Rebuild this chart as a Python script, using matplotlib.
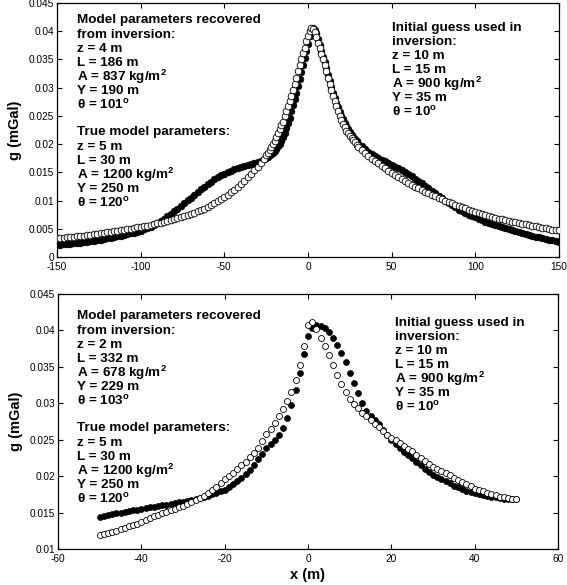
"""
Gravity anomaly fits: true model vs recovered model, two profiles.
"""
import numpy as np
import matplotlib
matplotlib.use("Agg")
import matplotlib.pyplot as plt
import matplotlib.ticker as mticker

plt.rcParams["font.family"] = ["Liberation Sans", "DejaVu Sans"]
plt.rcParams["mathtext.fontset"] = "custom"
plt.rcParams["mathtext.bf"] = "Liberation Sans:bold"
plt.rcParams["mathtext.rm"] = "Liberation Sans"
plt.rcParams["axes.unicode_minus"] = False

# ---------------------------------------------------------------------------
# Data
# ---------------------------------------------------------------------------
# top profile: sampling positions (m)
x_top = np.r_[np.arange(-150, -25, 2), np.arange(-25, 31), np.arange(32, 151, 2)]

g_top_true = [
    # -150 .. -26 (step 2)
    .00210, .00216, .00222, .00228, .00234, .00240, .00246, .00254, .00262, .00270,
    .00279, .00287, .00296, .00307, .00318, .00330, .00341, .00353, .00364, .00376,
    .00389, .00403, .00418, .00433, .00450, .00468, .00489, .00512, .00538, .00567,
    .00600, .00637, .00677, .00718, .00763, .00808, .00855, .00904, .00953, .01003,
    .01053, .01103, .01152, .01201, .01249, .01295, .01337, .01377, .01415, .01449,
    .01479, .01507, .01531, .01554, .01575, .01594, .01611, .01628, .01644, .01661,
    .01680, .01705, .01740,
    # -25 .. 30 (step 1)
    .0176, .0178, .0180, .0182, .0185, .0188, .0192, .0196, .0201, .0206,
    .0212, .0220, .0228, .0237, .0247, .0258, .0269, .0280, .0291, .0303,
    .0315, .0327, .0340, .0352, .0365, .0378, .0391, .0401, .0405, .0403,
    .0397, .0387, .0376, .0365, .0355, .0345, .0334, .0323, .0312, .0301,
    .0291, .0282, .0273, .0265, .0257, .0250, .0244, .0238, .0232, .0227,
    .0222, .0217, .0213, .0209, .0205, .0201,
    # 32 .. 150 (step 2)
    .01960, .01910, .01860, .01820, .01785, .01750, .01722, .01695, .01670, .01637,
    .01603, .01570, .01537, .01503, .01470, .01430, .01390, .01350, .01303, .01260,
    .01220, .01173, .01127, .01080, .01040, .01000, .00960, .00920, .00880, .00840,
    .00813, .00783, .00750, .00723, .00700, .00680, .00653, .00627, .00600, .00580,
    .00563, .00550, .00530, .00513, .00500, .00480, .00460, .00440, .00427, .00410,
    .00390, .00377, .00363, .00350, .00337, .00323, .00310, .00297, .00283, .00270,
]

g_top_model = [
    # -150 .. -26 (step 2)
    .00330, .00336, .00342, .00348, .00354, .00360, .00366, .00373, .00380, .00387,
    .00394, .00402, .00410, .00418, .00426, .00435, .00444, .00453, .00462, .00471,
    .00481, .00491, .00502, .00512, .00523, .00534, .00546, .00558, .00571, .00584,
    .00597, .00611, .00625, .00640, .00655, .00671, .00688, .00706, .00724, .00743,
    .00763, .00785, .00808, .00832, .00858, .00887, .00917, .00950, .00985, .01023,
    .01064, .01105, .01148, .01193, .01240, .01292, .01350, .01410, .01473, .01537,
    .01600, .01667, .01735,
    # -25 .. 30 (step 1)
    .0180, .0185, .0190, .0195, .0200, .0205, .0212, .0219, .0226, .0233,
    .0240, .0249, .0258, .0267, .0276, .0285, .0296, .0307, .0318, .0329,
    .0340, .0350, .0361, .0371, .0382, .0392, .0401, .0406, .0404, .0398,
    .0390, .0380, .0370, .0360, .0350, .0340, .0329, .0318, .0307, .0296,
    .0285, .0276, .0267, .0258, .0250, .0243, .0236, .0230, .0224, .0219,
    .0215, .0211, .0207, .0203, .0199, .0195,
    # 32 .. 150 (step 2)
    .01900, .01845, .01790, .01743, .01697, .01660, .01620, .01577, .01530, .01490,
    .01453, .01420, .01380, .01343, .01310, .01277, .01247, .01220, .01187, .01157,
    .01130, .01103, .01077, .01050, .01023, .00997, .00970, .00950, .00927, .00900,
    .00880, .00860, .00840, .00820, .00800, .00780, .00767, .00750, .00730, .00710,
    .00693, .00680, .00667, .00653, .00640, .00627, .00613, .00600, .00587, .00577,
    .00570, .00557, .00543, .00530, .00517, .00507, .00500, .00487, .00473, .00470,
]

# bottom profile: -50 .. 50 m, 1 m spacing
x_bot = np.arange(-50, 51)

g_bot_true = [
    .0144, .0145, .0147, .0148, .0149, .0150, .0151, .0152, .0153, .0154,
    .0155, .0156, .0157, .0158, .0159, .0160, .0161, .0162, .0163, .0164,
    .0165, .0166, .0167, .0168, .0170, .0171, .0173, .0175, .0177, .0179,
    .0181, .0185, .0189, .0193, .0198, .0203, .0208, .0215, .0223, .0231,
    .0238, .0244, .0249, .0256, .0266, .0280, .0298, .0318, .0342, .0368,
    .0393, .0404, .0407, .0406, .0403, .0398, .0390, .0380, .0369, .0356,
    .0342, .0328, .0314, .0301, .0289, .0283, .0277, .0271, .0264, .0257,
    .0250, .0244, .0238, .0233, .0229, .0225, .0220, .0215, .0210, .0206,
    .0202, .0199, .0196, .0193, .0190, .0187, .0185, .0182, .0180, .0178,
    .01765, .0175, .0174, .0173, .0172, .0171, .0170, .0169, .0169, .0168,
    .0168,
]

g_bot_model = [
    .0119, .0121, .0122, .0124, .0125, .0127, .0129, .0131, .0133, .0135,
    .0137, .0140, .0143, .0145, .0147, .0149, .0151, .0153, .0155, .0157,
    .0159, .0162, .0164, .0167, .0170, .0173, .0177, .0181, .0185, .0190,
    .0196, .0200, .0205, .0210, .0215, .0220, .0226, .0232, .0239, .0248,
    .0258, .0265, .0273, .0282, .0292, .0303, .0316, .0332, .0352, .0378,
    .0408, .0412, .0402, .0390, .0378, .0366, .0352, .0339, .0327, .0316,
    .0306, .0299, .0293, .0287, .0282, .0277, .0272, .0267, .0262, .0257,
    .0253, .0249, .0245, .0241, .0237, .0234, .0229, .0225, .0221, .0217,
    .0213, .0210, .0207, .0204, .0201, .0198, .0195, .0192, .0189, .0186,
    .0183, .0181, .0179, .0177, .0175, .0174, .0172, .0171, .0170, .0169,
    .0168,
]

TOP_YTICKS = [0, .005, .01, .015, .02, .025, .03, .035, .04, .045]
BOT_YTICKS = [.01, .015, .02, .025, .03, .035, .04, .045]

top_recovered = ["Model parameters recovered", "from inversion:", "z = 4 m", "L = 186 m",
                 r"A = 837 kg/m$^\mathbf{2}$", "Y = 190 m", r"θ = 101$^\mathbf{o}$", "",
                 "True model parameters:", "z = 5 m", "L = 30 m",
                 r"A = 1200 kg/m$^\mathbf{2}$", "Y = 250 m", r"θ = 120$^\mathbf{o}$"]
bot_recovered = ["Model parameters recovered", "from inversion:", "z = 2 m", "L = 332 m",
                 r"A = 678 kg/m$^\mathbf{2}$", "Y = 229 m", r"θ = 103$^\mathbf{o}$", "",
                 "True model parameters:", "z = 5 m", "L = 30 m",
                 r"A = 1200 kg/m$^\mathbf{2}$", "Y = 250 m", r"θ = 120$^\mathbf{o}$"]
initial_guess = ["Initial guess used in", "inversion:", "z = 10 m", "L = 15 m",
                 r"A = 900 kg/m$^\mathbf{2}$", "Y = 35 m", r"θ = 10$^\mathbf{o}$"]

# ---------------------------------------------------------------------------
# Figure
# ---------------------------------------------------------------------------
W, H = 567, 585
fig = plt.figure(figsize=(W / 100, H / 100), dpi=100)
ax1 = fig.add_axes([57 / W, 1 - 257 / H, 502 / W, 254 / H])
ax2 = fig.add_axes([58 / W, 1 - 549 / H, 500 / W, 255 / H])


def draw(ax, x, g_true, g_model, ms):
    ax.plot(x, g_true, "o", ms=ms, mfc="black", mec="black", mew=0.5, zorder=3)
    ax.plot(x, g_model, "o", ms=ms, mfc="white", mec="black", mew=0.6, zorder=4)
    ax.tick_params(direction="in", top=True, right=True, length=3.5, width=0.8,
                   labelsize=7.3, pad=2)
    ax.tick_params(axis="x", pad=3.5)
    for s in ax.spines.values():
        s.set_linewidth(0.9)
    ax.yaxis.set_major_formatter(mticker.FormatStrFormatter("%g"))
    ax.xaxis.set_major_formatter(mticker.FormatStrFormatter("%g"))
    ax.set_ylabel("g (mGal)", fontsize=10.5, fontweight="bold", labelpad=5)


draw(ax1, x_top, g_top_true, g_top_model, 4.8)
ax1.set_xlim(-150, 150)
ax1.set_ylim(0, 0.045)
ax1.set_xticks([-150, -100, -50, 0, 50, 100, 150])
ax1.set_yticks(TOP_YTICKS)

draw(ax2, x_bot, g_bot_true, g_bot_model, 4.3)
ax2.set_xlim(-60, 60)
ax2.set_ylim(0.01, 0.045)
ax2.set_xticks([-60, -40, -20, 0, 20, 40, 60])
ax2.set_yticks(BOT_YTICKS)
ax2.set_xlabel("x (m)", fontsize=10.5, fontweight="bold", labelpad=3)


def block(lines, x_px, y_px, step=14.0):
    for i, s in enumerate(lines):
        if not s:
            continue
        fig.text(x_px / W, 1 - (y_px + i * step) / H, s, fontsize=9.7,
                 fontweight="bold", ha="left", va="center")


block(top_recovered, 77, 20.5)
block(initial_guess, 392, 28)
block(bot_recovered, 77, 316.5)
block(initial_guess, 395, 323)

fig.savefig("out.png", dpi=100)
plt.close(fig)
